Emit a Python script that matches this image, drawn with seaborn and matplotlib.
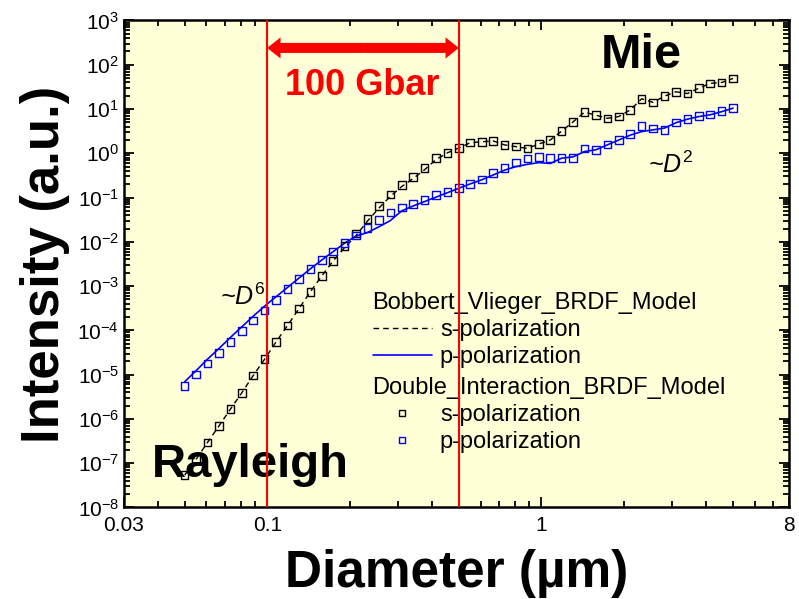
import numpy as np
import pandas as pd
import matplotlib
matplotlib.use("Agg")
import matplotlib.pyplot as plt
import seaborn as sns
from matplotlib.lines import Line2D
from matplotlib.ticker import FixedLocator, LogLocator, NullFormatter, LogFormatterSciNotation

# Diámetros de partícula (µm), malla logarítmica de 49 puntos
diameter = np.geomspace(0.05, 5.0, 49)

# Exponentes log10 de la intensidad
bv_s_exp = [-7.27, -6.91, -6.53, -6.16, -5.78, -5.41, -5.02, -4.65, -4.26, -3.89,
            -3.51, -3.13, -2.77, -2.43, -2.13, -1.86, -1.53, -1.24, -0.97, -0.75,
            -0.57, -0.37, -0.14, 0.01, 0.12, 0.24, 0.26, 0.28, 0.19, 0.15,
            0.11, 0.21, 0.30, 0.50, 0.71, 0.93, 0.86, 0.79, 0.83, 0.98,
            1.23, 1.15, 1.29, 1.39, 1.35, 1.47, 1.58, 1.60, 1.69]
bv_p_exp = [-5.16, -4.91, -4.65, -4.41, -4.16, -3.92, -3.68, -3.45, -3.24, -3.03,
            -2.82, -2.61, -2.41, -2.22, -2.03, -1.87, -1.79, -1.66, -1.52, -1.30,
            -1.19, -1.09, -0.99, -0.89, -0.79, -0.69, -0.60, -0.49, -0.38, -0.30,
            -0.25, -0.21, -0.23, -0.11, -0.08, 0.04, 0.08, 0.19, 0.30, 0.41,
            0.49, 0.53, 0.57, 0.69, 0.77, 0.83, 0.87, 0.94, 1.02]
di_s_exp = [-7.27, -6.91, -6.53, -6.16, -5.78, -5.41, -5.02, -4.65, -4.26, -3.89,
            -3.51, -3.13, -2.77, -2.43, -2.09, -1.81, -1.48, -1.19, -0.93, -0.71,
            -0.53, -0.33, -0.10, 0.01, 0.12, 0.24, 0.26, 0.28, 0.19, 0.15,
            0.11, 0.21, 0.30, 0.50, 0.71, 0.93, 0.86, 0.79, 0.83, 0.98,
            1.23, 1.15, 1.30, 1.39, 1.35, 1.47, 1.58, 1.60, 1.69]
di_p_exp = [-5.25, -5.00, -4.75, -4.51, -4.26, -4.02, -3.78, -3.55, -3.31, -3.07,
            -2.84, -2.62, -2.41, -2.22, -2.03, -1.86, -1.69, -1.51, -1.34, -1.22,
            -1.15, -1.05, -0.94, -0.87, -0.78, -0.69, -0.59, -0.44, -0.33, -0.21,
            -0.12, -0.08, -0.11, -0.11, -0.10, 0.11, 0.08, 0.20, 0.30, 0.44,
            0.62, 0.56, 0.53, 0.70, 0.78, 0.84, 0.88, 0.96, 1.02]

df = pd.DataFrame({
    "D": diameter,
    "bv_s": 10.0 ** np.array(bv_s_exp),
    "bv_p": 10.0 ** np.array(bv_p_exp),
    "di_s": 10.0 ** np.array(di_s_exp),
    "di_p": 10.0 ** np.array(di_p_exp),
})

x_ticks = [0.03, 0.1, 1, 8]
x_tick_labels = ["0.03", "0.1", "1", "8"]
pressure_range = [0.1, 0.5]

sns.set_style("ticks")
plt.rcParams["font.family"] = ["Liberation Sans", "DejaVu Sans"]
plt.rcParams["mathtext.fontset"] = "custom"
plt.rcParams["mathtext.rm"] = "Liberation Sans"
plt.rcParams["mathtext.it"] = "Liberation Sans:italic"
plt.rcParams["mathtext.bf"] = "Liberation Sans:bold"
for key in ["text.color", "axes.labelcolor", "xtick.color", "ytick.color"]:
    plt.rcParams[key] = "black"

fig = plt.figure(figsize=(7.99, 5.99), dpi=100)
ax = fig.add_axes([0.155, 0.1528, 0.8325, 0.813])
ax.set_facecolor("#ffffd8")

sns.lineplot(data=df, x="D", y="bv_s", ax=ax, color="black", lw=1.0,
             linestyle=(0, (4, 3)), zorder=2)
sns.lineplot(data=df, x="D", y="bv_p", ax=ax, color="#0000ff", lw=1.2, zorder=2)
sns.scatterplot(data=df, x="D", y="di_s", ax=ax, marker="s", s=30,
                fc="none", ec="black", linewidth=1.0, zorder=3)
sns.scatterplot(data=df, x="D", y="di_p", ax=ax, marker="s", s=30,
                fc="none", ec="#0000ff", linewidth=1.0, zorder=3)

ax.set_xscale("log")
ax.set_yscale("log")
ax.set_xlim(0.03, 8)
ax.set_ylim(1e-8, 1e3)

# líneas rojas del rango de 100 Gbar
for xv in pressure_range:
    ax.axvline(xv, color="red", lw=1.5, zorder=6)

mid = np.sqrt(pressure_range[0] * pressure_range[1])
for end in pressure_range:
    ax.annotate("", xy=(end, 240), xytext=(mid, 240),
                arrowprops=dict(arrowstyle="simple,head_length=0.6,head_width=0.95,tail_width=0.45",
                                mutation_scale=16, fc="red", ec="none",
                                shrinkA=0, shrinkB=0), zorder=6)
ax.text(0.116, 20.8, "100 Gbar", color="red", fontsize=26, fontweight="bold",
        ha="left", va="baseline", zorder=6)

ax.text(1.64, 165, "Mie", fontsize=35, fontweight="bold", ha="left", va="center")
ax.text(0.038, 10 ** -7.31, "Rayleigh", fontsize=34, fontweight="bold",
        ha="left", va="baseline", zorder=5)
ax.text(0.067, 10 ** -3.43, r"~$\mathit{D}^{6}$", fontsize=18, fontstyle="italic",
        ha="left", va="baseline")
ax.text(2.45, 10 ** -0.445, r"~$\mathit{D}^{2}$", fontsize=18, fontstyle="italic",
        ha="left", va="baseline")

# ejes y marcas
ax.xaxis.set_major_locator(FixedLocator(x_ticks))
ax.set_xticklabels(x_tick_labels)
ax.xaxis.set_minor_locator(LogLocator(base=10, subs=np.arange(2, 10), numticks=20))
ax.xaxis.set_minor_formatter(NullFormatter())
ax.yaxis.set_major_locator(LogLocator(base=10, numticks=20))
ax.yaxis.set_major_formatter(LogFormatterSciNotation())
ax.yaxis.set_minor_locator(LogLocator(base=10, subs=np.arange(2, 10), numticks=20))
ax.yaxis.set_minor_formatter(NullFormatter())
ax.tick_params(which="both", direction="in", top=True, right=True, width=1.3, labelsize=15)
ax.tick_params(which="major", length=7)
ax.tick_params(which="minor", length=4)
ax.tick_params(axis="x", pad=6)
for sp in ax.spines.values():
    sp.set_linewidth(1.8)
    sp.set_color("black")

ax.set_xlabel("Diameter (µm)", fontsize=37, fontweight="bold", labelpad=10)
ax.set_ylabel("Intensity (a.u.)", fontsize=38, fontweight="bold", labelpad=5)

# leyendas con título
h_bv = [Line2D([], [], color="black", lw=1.0, linestyle=(0, (4, 3))),
        Line2D([], [], color="#0000ff", lw=1.2)]
h_di = [Line2D([], [], color="black", marker="s", ls="none", mfc="none", ms=5, mew=1.0),
        Line2D([], [], color="#0000ff", marker="s", ls="none", mfc="none", ms=5, mew=1.0)]
labels = ["s-polarization", "p-polarization"]
leg_kw = dict(frameon=False, fontsize=17, title_fontsize=17, alignment="left",
              handlelength=2.5, handletextpad=0.35, labelspacing=0.22,
              borderpad=0, borderaxespad=0, loc="upper left")
leg1 = ax.legend(h_bv, labels, title="Bobbert_Vlieger_BRDF_Model",
                 bbox_to_anchor=(0.374, 0.443), **leg_kw)
ax.add_artist(leg1)
leg2 = ax.legend(h_di, labels, title="Double_Interaction_BRDF_Model",
                 bbox_to_anchor=(0.374, 0.268), **leg_kw)
for lg in (leg1, leg2):
    lg.set_zorder(4)

fig.savefig("out.png", dpi=100, facecolor="white")
